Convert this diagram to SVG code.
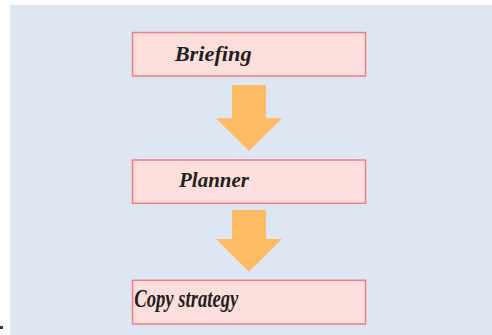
<svg xmlns="http://www.w3.org/2000/svg" width="492" height="335" viewBox="0 0 492 335">
<style>
.box{fill:#fcdfdd;stroke:#ef7b85;stroke-width:1.5}
.arrow{fill:#fdbc63}
.lbl{font-family:"Liberation Serif",serif;font-weight:bold;font-style:italic;font-size:22px;fill:#231f20}
</style>
<rect x="0" y="0" width="492" height="335" fill="#ffffff"/>
<rect x="10" y="5" width="482" height="330" fill="#dfe6f3"/>
<rect x="0" y="326" width="3" height="3" fill="#333333"/>
<g id="connectors">
<polygon class="arrow" points="232,85 266,85 266,118.3 282,118.3 249,151 216,118.3 232,118.3"/>
<polygon class="arrow" points="232,210 266,210 266,239 282,239 249,271.7 216,239 232,239"/>
</g>
<g id="briefing">
<rect class="box" x="132.5" y="32.5" width="233" height="43.5"/>
<text class="lbl" x="174.7" y="60.5" textLength="77" lengthAdjust="spacingAndGlyphs">Briefing</text>
</g>
<g id="planner">
<rect class="box" x="132.5" y="160" width="233" height="43.3"/>
<text class="lbl" x="179" y="186.7" textLength="70" lengthAdjust="spacingAndGlyphs">Planner</text>
</g>
<g id="copy-strategy">
<rect class="box" x="132.5" y="280.3" width="233" height="43.7"/>
<text class="lbl" x="134.3" y="306.7" style="font-size:25px" textLength="104" lengthAdjust="spacingAndGlyphs">Copy strategy</text>
</g>
</svg>
